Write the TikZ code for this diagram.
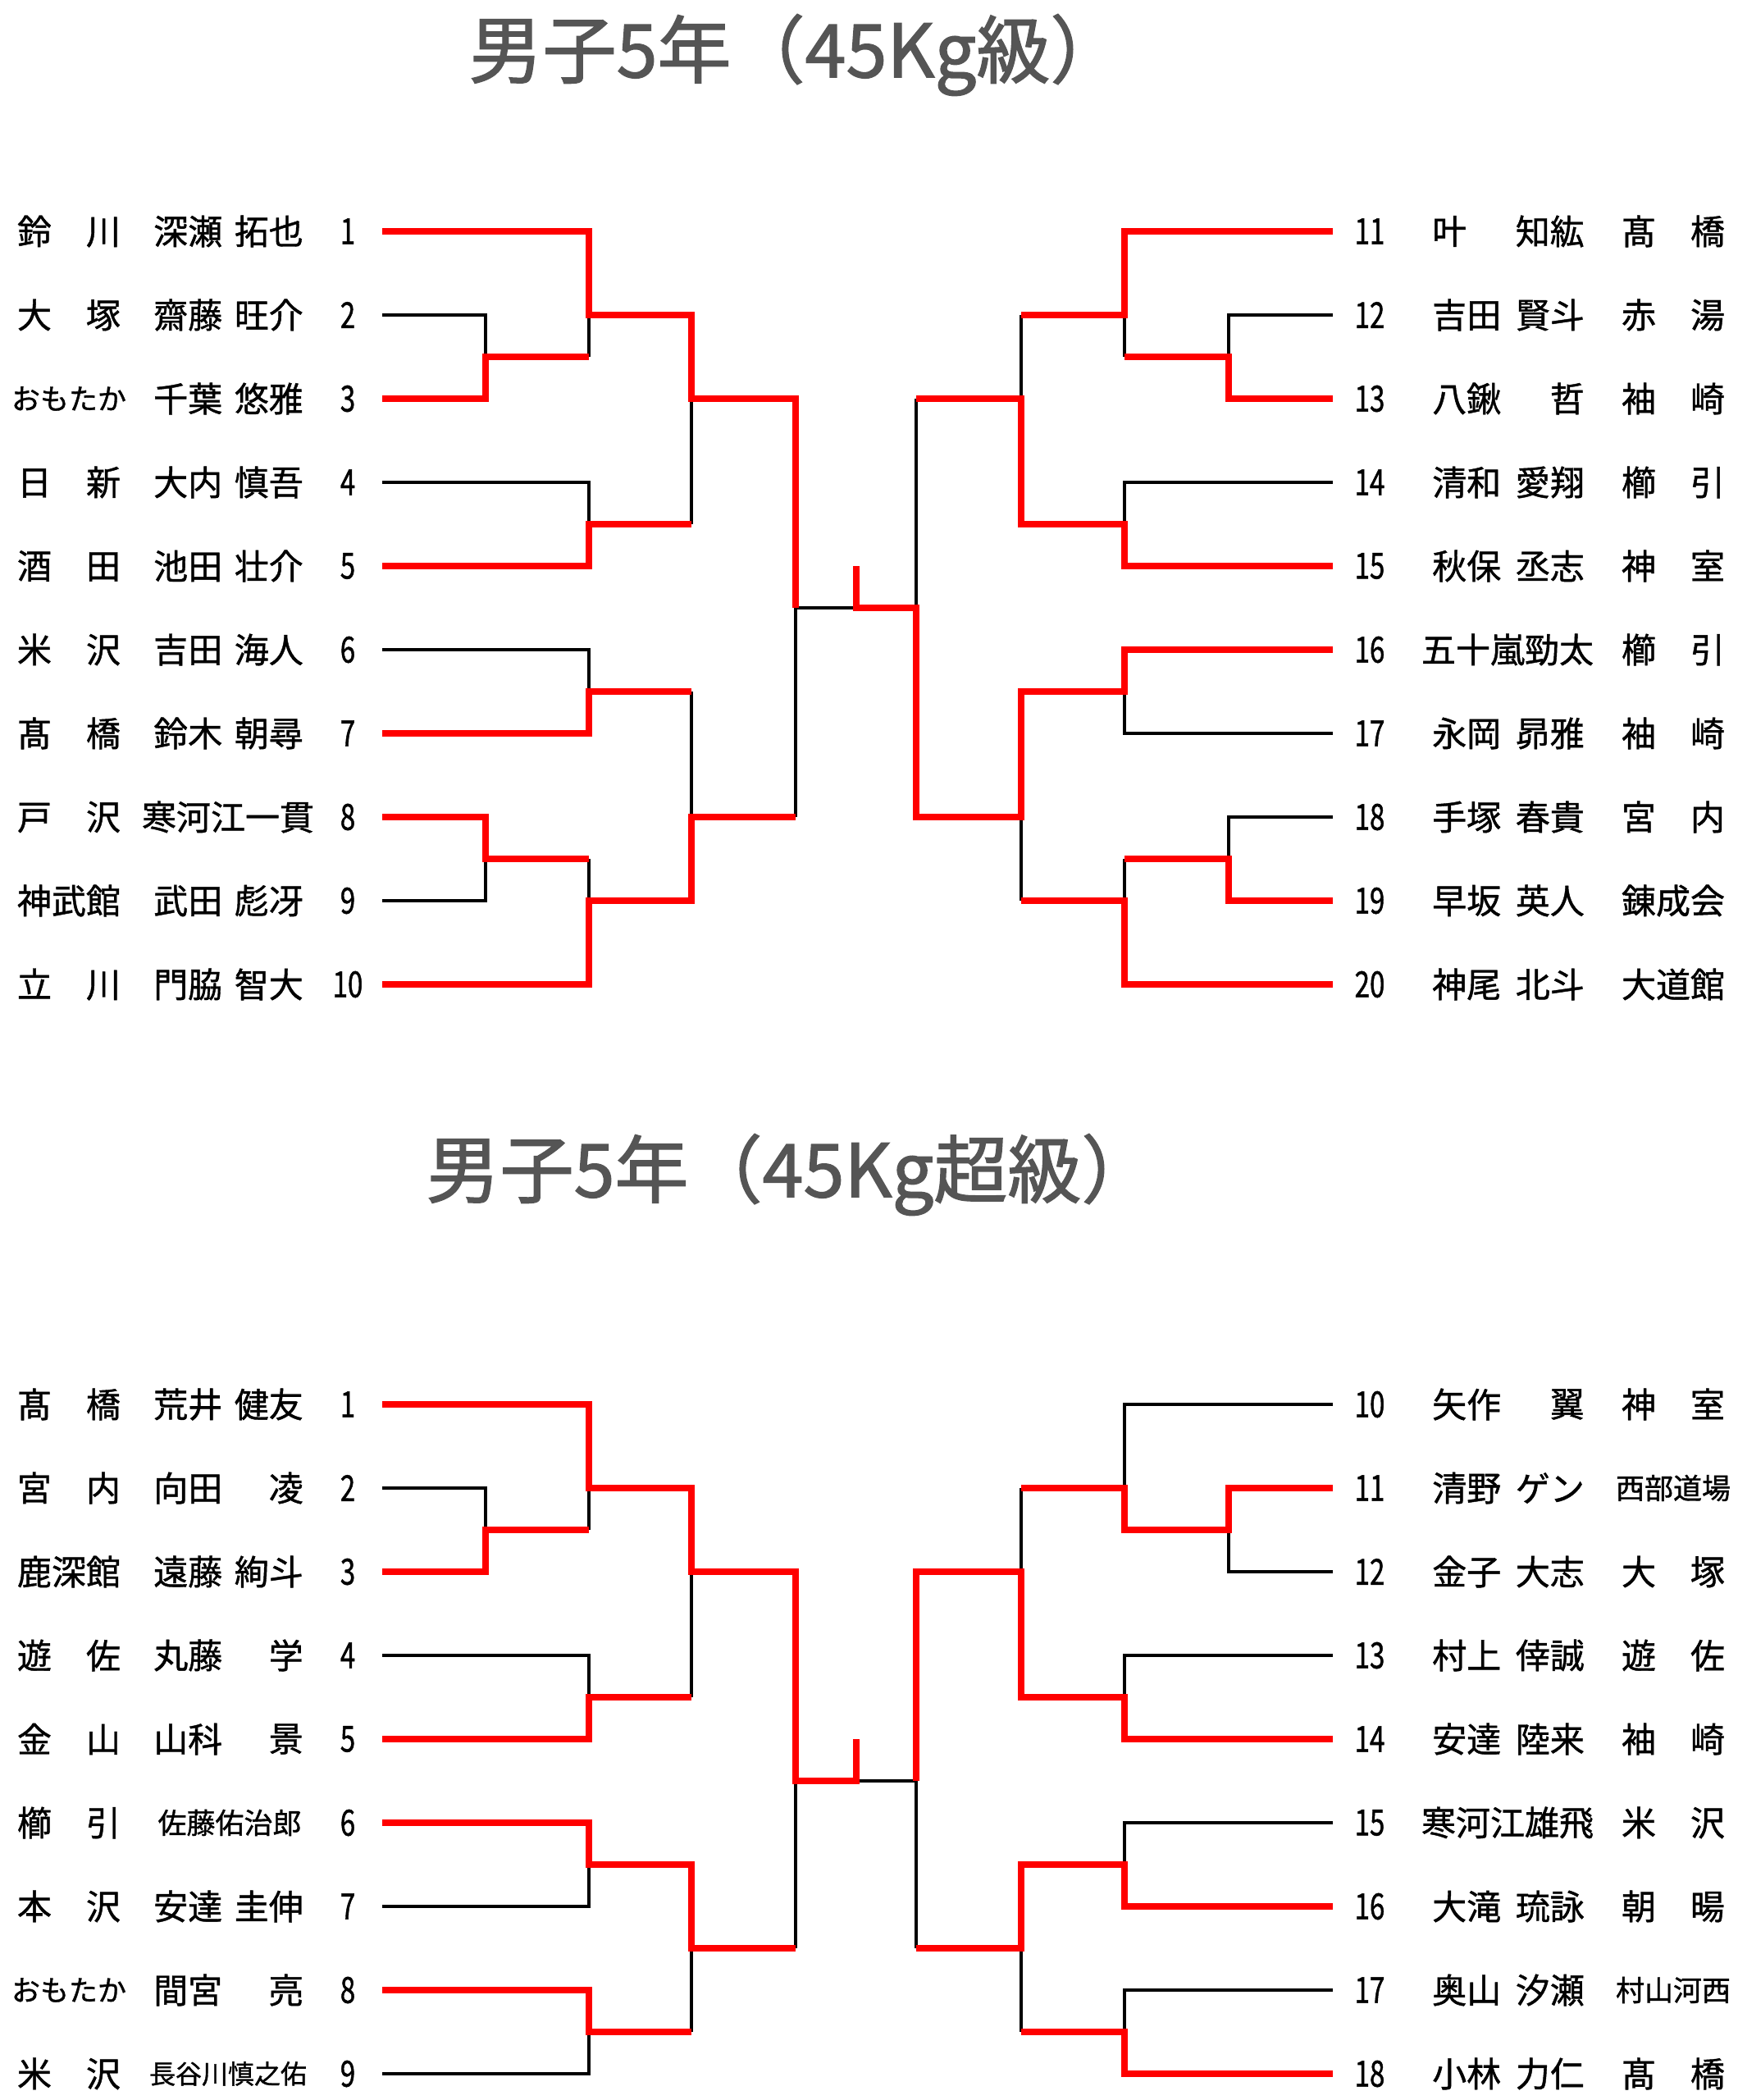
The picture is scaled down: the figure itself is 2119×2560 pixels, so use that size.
\documentclass[tikz,border=0pt]{standalone}
\usepackage{fontspec}
\setmainfont[FakeBold=1]{Noto Sans CJK JP}
\newfontfamily\numfont[FakeStretch=0.75,FakeBold=1]{Noto Sans CJK JP}
\newfontfamily\titlefont[AutoFakeBold=1.5]{Noto Sans CJK JP}
\definecolor{titlegray}{HTML}{555555}

\def\La{466}\def\Lb{592}\def\Lc{718}\def\Ld{843}\def\Le{970}
\def\Mid{1044}
\def\Re{1117}\def\Rd{1245}\def\Rc{1371}\def\Rb{1498}\def\Ra{1625}

\tikzset{
  redline/.style={draw=red,line width=8pt,line join=miter},
  blackline/.style={draw=black,line width=4pt},
  entry/.style={inner sep=0pt,font=\fontsize{42}{48}\selectfont},
  kana/.style={inner sep=0pt,font=\fontsize{35}{40}\selectfont},
  tight/.style={inner sep=0pt,font=\fontsize{32}{36}\selectfont},
  num/.style={inner sep=0pt,font=\numfont\fontsize{44}{48}\selectfont},
  heading/.style={inner sep=0pt,text=titlegray,font=\titlefont\bfseries\fontsize{90}{96}\selectfont}
}

\begin{document}
\begin{tikzpicture}[x=1pt,y=-1pt]
\useasboundingbox (0,0) rectangle (2119,2560);

\node[heading] (title1) at (971,67) {男子5年（45Kg級）};
\node[heading] (title2) at (964,1432) {男子5年（45Kg超級）};

\begin{scope}[yshift=-282pt,y=-51pt]
\foreach \i/\club/\sur/\giv in {1/鈴　川/深瀬/拓也, 2/大　塚/齋藤/旺介, 4/日　新/大内/慎吾, 5/酒　田/池田/壮介, 6/米　沢/吉田/海人, 7/髙　橋/鈴木/朝尋, 9/神武館/武田/彪冴, 10/立　川/門脇/智大}{
  \pgfmathtruncatemacro\u{2*(\i-1)}
  \node[entry] (ac\i) at (84,\u) {\club};
  \node[entry,anchor=west] (as\i) at (187,\u) {\sur};
  \node[entry,anchor=east] (ag\i) at (370,\u) {\giv};
}
\node[kana] (ac3) at (84,4) {おもたか};
\node[entry,anchor=west] (as3) at (187,4) {千葉};
\node[entry,anchor=east] (ag3) at (370,4) {悠雅};
\node[entry] (ac8) at (84,14) {戸　沢};
\node[entry] (as8) at (278,14) {寒河江一貫};
\foreach \i in {1,...,10}{
  \pgfmathtruncatemacro\u{2*(\i-1)}
  \node[num] (an\i) at (424,\u) {\i};
  \coordinate (a\i) at (\La,\u);
}

\foreach \i/\sur/\giv/\club in {11/叶/知紘/髙　橋, 12/吉田/賢斗/赤　湯, 13/八鍬/哲/袖　崎, 14/清和/愛翔/櫛　引, 15/秋保/丞志/神　室, 17/永岡/昴雅/袖　崎, 18/手塚/春貴/宮　内, 19/早坂/英人/錬成会, 20/神尾/北斗/大道館}{
  \pgfmathtruncatemacro\u{2*(\i-11)}
  \node[entry,anchor=west] (bs\i) at (1746,\u) {\sur};
  \node[entry,anchor=east] (bg\i) at (1932,\u) {\giv};
  \node[entry] (bc\i) at (2040,\u) {\club};
}
\node[entry] (bs16) at (1838,10) {五十嵐勁太};
\node[entry] (bc16) at (2040,10) {櫛　引};
\foreach \i in {11,...,20}{
  \pgfmathtruncatemacro\u{2*(\i-11)}
  \node[num] (bn\i) at (1670,\u) {\i};
  \coordinate (b\i) at (\Ra,\u);
}

\draw[blackline] (a2) -| (\Lb,3) (\Lc,2) -- (\Lc,3) (a4) -| (\Lc,7) (\Ld,4) -- (\Ld,7)
  (a6) -| (\Lc,11) (a9) -| (\Lb,15) (\Lc,15) -- (\Lc,16) (\Ld,11) -- (\Ld,14) (\Mid,9) -| (\Le,14);
\draw[blackline] (b12) -| (\Rb,3) (\Rc,2) -- (\Rc,3) (\Rd,2) -- (\Rd,4) (b14) -| (\Rc,7) (\Re,4) -- (\Re,9)
  (b17) -| (\Rc,11) (b18) -| (\Rb,15) (\Rc,15) -- (\Rc,16) (\Rd,14) -- (\Rd,16);

\draw[redline] (a1) -| (\Lc,2) -| (\Ld,4) -| (\Le,9);
\draw[redline] (a3) -| (\Lb,3) -- (\Lc,3);
\draw[redline] (a5) -| (\Lc,7) -- (\Ld,7);
\draw[redline] (a7) -| (\Lc,11) -- (\Ld,11);
\draw[redline] (a8) -| (\Lb,15) -- (\Lc,15);
\draw[redline] (a10) -| (\Lc,16) -| (\Ld,14) -- (\Le,14);
\draw[redline] (b11) -| (\Rc,2) -- (\Rd,2);
\draw[redline] (b13) -| (\Rb,3) -- (\Rc,3);
\draw[redline] (b15) -| (\Rc,7) -| (\Rd,4) -- (\Re,4);
\draw[redline] (b16) -| (\Rc,11) -| (\Rd,14) -| (\Re,9) -- (\Mid,9) -- (\Mid,8);
\draw[redline] (b19) -| (\Rb,15) -- (\Rc,15);
\draw[redline] (b20) -| (\Rc,16) -- (\Rd,16);
\end{scope}

\begin{scope}[yshift=-1712pt,y=-51pt]
\foreach \i/\club/\sur/\giv in {1/髙　橋/荒井/健友, 2/宮　内/向田/凌, 3/鹿深館/遠藤/絢斗, 4/遊　佐/丸藤/学, 5/金　山/山科/景, 7/本　沢/安達/圭伸}{
  \pgfmathtruncatemacro\u{2*(\i-1)}
  \node[entry] (cc\i) at (84,\u) {\club};
  \node[entry,anchor=west] (cs\i) at (187,\u) {\sur};
  \node[entry,anchor=east] (cg\i) at (370,\u) {\giv};
}
\node[entry] (cc6) at (84,10) {櫛　引};
\node[kana] (cs6) at (280,10) {佐藤佑治郎};
\node[kana] (cc8) at (84,14) {おもたか};
\node[entry,anchor=west] (cs8) at (187,14) {間宮};
\node[entry,anchor=east] (cg8) at (370,14) {亮};
\node[entry] (cc9) at (84,16) {米　沢};
\node[tight] (cs9) at (278,16) {長谷川慎之佑};
\foreach \i in {1,...,9}{
  \pgfmathtruncatemacro\u{2*(\i-1)}
  \node[num] (cn\i) at (424,\u) {\i};
  \coordinate (c\i) at (\La,\u);
}

\foreach \i/\sur/\giv/\club in {10/矢作/翼/神　室, 12/金子/大志/大　塚, 13/村上/倖誠/遊　佐, 14/安達/陸来/袖　崎, 16/大滝/琉詠/朝　暘, 18/小林/力仁/髙　橋}{
  \pgfmathtruncatemacro\u{2*(\i-10)}
  \node[entry,anchor=west] (ds\i) at (1746,\u) {\sur};
  \node[entry,anchor=east] (dg\i) at (1932,\u) {\giv};
  \node[entry] (dc\i) at (2040,\u) {\club};
}
\node[entry,anchor=west] (ds11) at (1746,2) {清野};
\node[entry,anchor=east] (dg11) at (1932,2) {ゲン};
\node[kana] (dc11) at (2040,2) {西部道場};
\node[entry] (ds15) at (1838,10) {寒河江雄飛};
\node[entry] (dc15) at (2040,10) {米　沢};
\node[entry,anchor=west] (ds17) at (1746,14) {奥山};
\node[entry,anchor=east] (dg17) at (1932,14) {汐瀬};
\node[kana] (dc17) at (2040,14) {村山河西};
\foreach \i in {10,...,18}{
  \pgfmathtruncatemacro\u{2*(\i-10)}
  \node[num] (dn\i) at (1670,\u) {\i};
  \coordinate (d\i) at (\Ra,\u);
}

\draw[blackline] (c2) -| (\Lb,3) (\Lc,2) -- (\Lc,3) (c4) -| (\Lc,7) (\Ld,4) -- (\Ld,7)
  (c7) -| (\Lc,11) (c9) -| (\Lc,15) (\Ld,13) -- (\Ld,15) (\Le,9) -- (\Le,13);
\draw[blackline] (d10) -| (\Rc,2) (d12) -| (\Rb,3) (\Rd,2) -- (\Rd,4) (d13) -| (\Rc,7)
  (d15) -| (\Rc,11) (d17) -| (\Rc,15) (\Rd,13) -- (\Rd,15) (\Mid,9) -| (\Re,13);

\draw[redline] (c1) -| (\Lc,2) -| (\Ld,4) -| (\Le,9) -- (\Mid,9) -- (\Mid,8);
\draw[redline] (c3) -| (\Lb,3) -- (\Lc,3);
\draw[redline] (c5) -| (\Lc,7) -- (\Ld,7);
\draw[redline] (c6) -| (\Lc,11) -| (\Ld,13) -- (\Le,13);
\draw[redline] (c8) -| (\Lc,15) -- (\Ld,15);
\draw[redline] (d11) -| (\Rb,3) -| (\Rc,2) -- (\Rd,2);
\draw[redline] (d14) -| (\Rc,7) -| (\Rd,4) -| (\Re,9);
\draw[redline] (d16) -| (\Rc,11) -| (\Rd,13) -- (\Re,13);
\draw[redline] (d18) -| (\Rc,15) -- (\Rd,15);
\end{scope}
\end{tikzpicture}
\end{document}
